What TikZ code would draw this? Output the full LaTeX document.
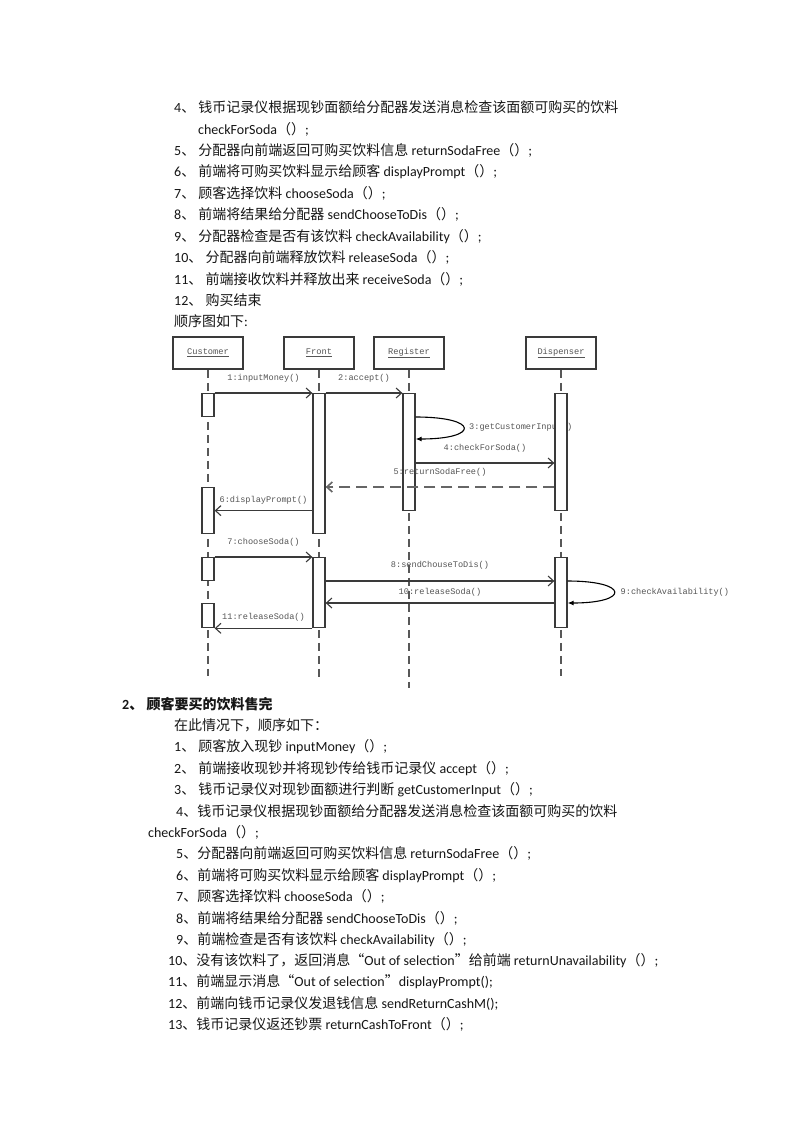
\documentclass[tikz,border=0pt]{standalone}
\usepackage{fontspec}
\setmainfont{Carlito}
\newfontfamily\cjk{Noto Sans CJK SC}
\newfontfamily\umlfont{Liberation Mono}
\newcommand\zh[1]{{\cjk #1}}
\definecolor{umlline}{HTML}{3A3A3A}
\definecolor{umltext}{HTML}{555555}
\definecolor{bodytext}{HTML}{161616}
\usetikzlibrary{arrows.meta,positioning,calc}

\begin{document}
\begin{tikzpicture}[x=1pt,y=-1pt] % one unit = one pixel of the page, y grows downwards
\tikzset{txt/.style={anchor=base west, inner sep=0, text=bodytext, font=\fontsize{14}{17}\selectfont}} % lines of the page text
\tikzset{head/.style={draw=umlline, line width=1.6pt, minimum width=70pt, minimum height=32pt, inner sep=0, text=umltext, font=\umlfont\fontsize{8.7}{10}\selectfont}} % object boxes
\tikzset{bar/.style={draw=umlline, fill=white, line width=1.3pt, minimum width=12pt, inner sep=0, anchor=north}} % activation bars
\tikzset{life/.style={draw=umlline!85, line width=1.3pt, dash pattern=on 8pt off 5pt}}
\tikzset{msg/.style={draw=umlline, line width=1.1pt, -{Straight Barb[length=5.5pt,width=10pt]}}}
\tikzset{reply/.style={draw=umltext!90, line width=1.6pt, dash pattern=on 11pt off 6pt, -{Straight Barb[length=5.5pt,width=10pt]}}}
\tikzset{selfcall/.style={draw=black, line width=1.1pt, -{Latex[length=6pt,width=5pt]}}}
\tikzset{lbl/.style={inner sep=0, text=umltext, font=\umlfont\fontsize{8.6}{10}\selectfont}}
\useasboundingbox[fill=white] (0,0) rectangle (800,1132);

% text above the diagram
\node[txt] (p4) at (174,112) {4\zh{、 钱币记录仪根据现钞面额给分配器发送消息检查该面额可购买的饮料}};
\node[txt] (p4b) at (198,134) {checkForSoda\zh{（）};};
\node[txt] (p5) at (174,155) {5\zh{、 分配器向前端返回可购买饮料信息} returnSodaFree\zh{（）};};
\node[txt] (p6) at (174,176) {6\zh{、 前端将可购买饮料显示给顾客} displayPrompt\zh{（）};};
\node[txt] (p7) at (174,198) {7\zh{、 顾客选择饮料} chooseSoda\zh{（）};};
\node[txt] (p8) at (174,219) {8\zh{、 前端将结果给分配器} sendChooseToDis\zh{（）};};
\node[txt] (p9) at (174,241) {9\zh{、 分配器检查是否有该饮料} checkAvailability\zh{（）};};
\node[txt] (p10) at (174,262) {10\zh{、 分配器向前端释放饮料} releaseSoda\zh{（）};};
\node[txt] (p11) at (174,284) {11\zh{、 前端接收饮料并释放出来} receiveSoda\zh{（）};};
\node[txt] (p12) at (174,305) {12\zh{、 购买结束}};
\node[txt] (p13) at (174,326) {\zh{顺序图如下}:};

% objects and lifelines
\node[head] (cust) at (208,353) {\underline{Customer}};
\node[head] (front) at (319,353) {\underline{Front}};
\node[head] (reg) at (409,353) {\underline{Register}};
\node[head] (disp) at (561,353) {\underline{Dispenser}};
\coordinate (custEnd) at (208,676);
\coordinate (frontEnd) at (319,679);
\coordinate (regEnd) at (409,688);
\coordinate (dispEnd) at (561,676);
\draw[life] (cust) -- (custEnd);
\draw[life] (front) -- (frontEnd);
\draw[life] (reg) -- (regEnd);
\draw[life] (disp) -- (dispEnd);
\node[lbl, anchor=west] (l3) at (469,427) {3:getCustomerInput()}; % partly hidden by the bar

% activation bars
\node[bar, minimum height=23pt] (cb1) at (208,393) {};
\node[bar, minimum height=46pt] (cb2) at (208,487) {};
\node[bar, minimum height=23pt] (cb3) at (208,557) {};
\node[bar, minimum height=24pt] (cb4) at (208,603) {};
\node[bar, minimum height=140pt] (fb1) at (319,393) {};
\node[bar, minimum height=70pt] (fb2) at (319,557) {};
\node[bar, minimum height=117pt] (rb1) at (409,393) {};
\node[bar, minimum height=117pt] (db1) at (561,393) {};
\node[bar, minimum height=70pt] (db2) at (561,557) {};

% messages
\draw[msg] (cb1.north east) -- node[lbl, above=10pt] (l1) {1:inputMoney()} (fb1.north west);
\draw[msg] (fb1.north east) -- node[lbl, above=10pt] (l2) {2:accept()} (rb1.north west);
\draw[selfcall] ($(rb1.north east)+(0,24)$) .. controls +(64,0) and +(64,0) .. ($(rb1.north east)+(0,46)$);
\draw[msg] ($(rb1.north east)+(0,70)$) -- node[lbl, above=10pt] (l4) {4:checkForSoda()} ($(db1.north west)+(0,70)$);
\draw[reply] (db1.west |- cb2.north) -- node[lbl, above=10pt] (l5) {5:returnSodaFree()} (fb1.east |- cb2.north);
\draw[msg] (fb1.west |- cb2.east) -- node[lbl, above=6pt] (l6) {6:displayPrompt()} (cb2.east);
\draw[msg] (cb3.north east) -- node[lbl, above=10pt] (l7) {7:chooseSoda()} (fb2.north west);
\draw[msg] ($(fb2.north east)+(0,24)$) -- node[lbl, above=11pt] (l8) {8:sendChouseToDis()} ($(db2.north west)+(0,24)$);
\draw[selfcall] ($(db2.north east)+(0,24)$) .. controls +(62,0) and +(62,0) .. node[lbl, anchor=west, xshift=6pt] (l9) {9:checkAvailability()} ($(db2.north east)+(0,46)$);
\draw[msg] (db2.west |- cb4.north) -- node[lbl, above=6pt] (l10) {10:releaseSoda()} (fb2.east |- cb4.north);
\draw[msg] (fb2.south west) -- node[lbl, above=6pt] (l11) {11:releaseSoda()} (cb4.south east);

% text below the diagram
\node[txt, font=\fontsize{14}{17}\selectfont\bfseries] (q0) at (122,709) {2\zh{、 顾客要买的饮料售完}};
\node[txt] (q1) at (174,730) {\zh{在此情况下，顺序如下：}};
\node[txt] (q2) at (174,751) {1\zh{、 顾客放入现钞} inputMoney\zh{（）};};
\node[txt] (q3) at (174,773) {2\zh{、 前端接收现钞并将现钞传给钱币记录仪} accept\zh{（）};};
\node[txt] (q4) at (174,794) {3\zh{、 钱币记录仪对现钞面额进行判断} getCustomerInput\zh{（）};};
\node[txt] (q5) at (176,816) {4\zh{、钱币记录仪根据现钞面额给分配器发送消息检查该面额可购买的饮料}};
\node[txt] (q5b) at (148,837) {checkForSoda\zh{（）};};
\node[txt] (q6) at (176,858) {5\zh{、分配器向前端返回可购买饮料信息} returnSodaFree\zh{（）};};
\node[txt] (q7) at (176,880) {6\zh{、前端将可购买饮料显示给顾客} displayPrompt\zh{（）};};
\node[txt] (q8) at (176,901) {7\zh{、顾客选择饮料} chooseSoda\zh{（）};};
\node[txt] (q9) at (176,923) {8\zh{、前端将结果给分配器} sendChooseToDis\zh{（）};};
\node[txt] (q10) at (176,944) {9\zh{、前端检查是否有该饮料} checkAvailability\zh{（）};};
\node[txt] (q11) at (168,965) {10\zh{、没有该饮料了，返回消息“}Out of selection\zh{”给前端} returnUnavailability\zh{（）};};
\node[txt] (q12) at (168,986) {11\zh{、前端显示消息“}Out of selection\zh{”}displayPrompt();};
\node[txt] (q13) at (168,1008) {12\zh{、前端向钱币记录仪发退钱信息} sendReturnCashM();};
\node[txt] (q14) at (168,1029) {13\zh{、钱币记录仪返还钞票} returnCashToFront\zh{（）};};
\end{tikzpicture}
\end{document}
